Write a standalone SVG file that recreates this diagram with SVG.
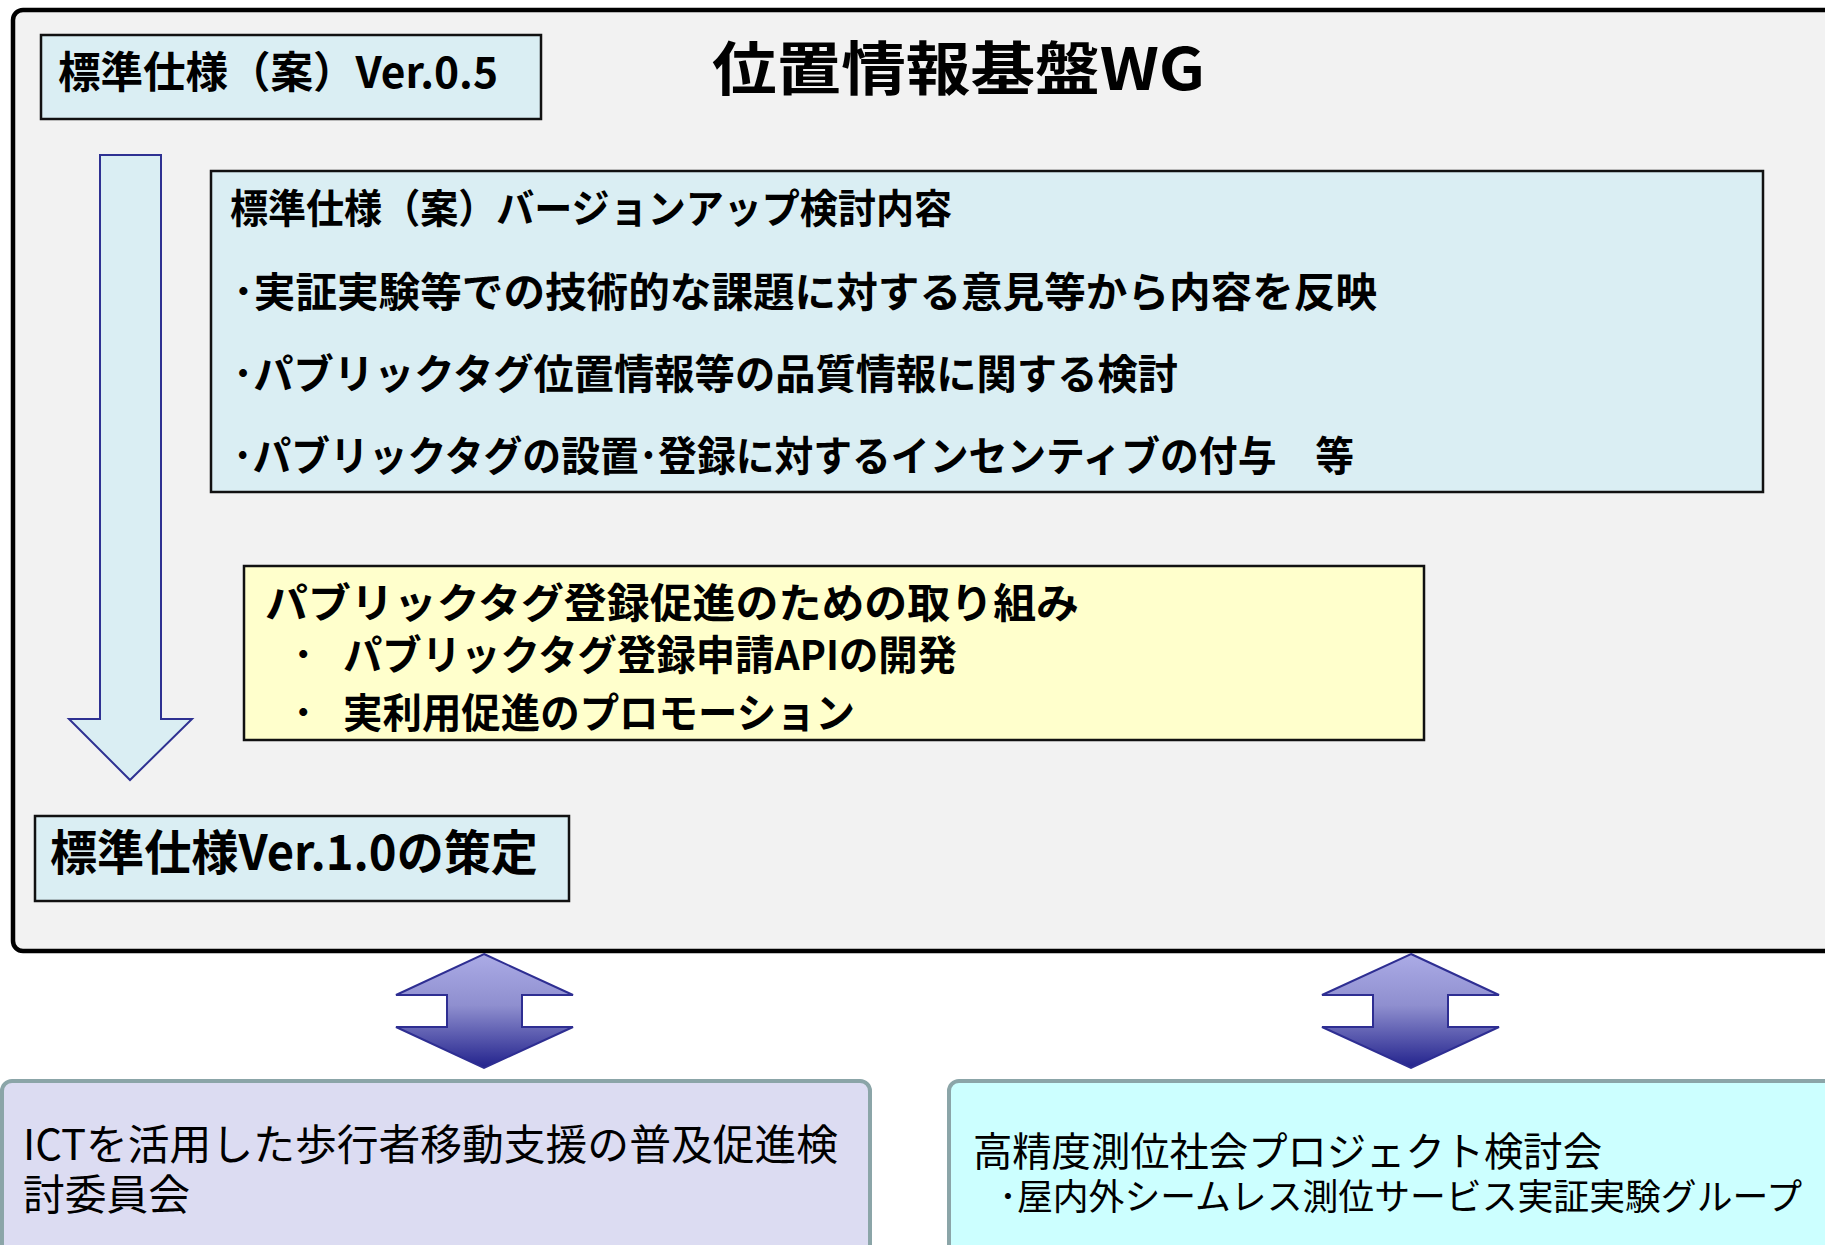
<svg xmlns="http://www.w3.org/2000/svg" width="1825" height="1245" viewBox="0 0 1825 1245">
<defs>
<linearGradient id="dblGrad" x1="0" y1="0" x2="0" y2="1">
<stop offset="0" stop-color="#ABABE6"/>
<stop offset="0.45" stop-color="#8F8FCF"/>
<stop offset="1" stop-color="#22228C"/>
</linearGradient>
<style>
.jp{font-family:"Noto Sans CJK JP","Liberation Sans",sans-serif;fill:#000;}
.b{font-weight:bold;}
.n{font-weight:normal;}
.lb{fill:#DAEEF3;stroke:#111;stroke-width:2.5;}
.yb{fill:#FFFFCC;stroke:#111;stroke-width:2.5;}
.dbl{fill:url(#dblGrad);stroke:#2E2E92;stroke-width:2;}
.bot{stroke:#8BA5A8;stroke-width:4;}
</style>
</defs>
<rect width="1825" height="1245" fill="#FFFFFF"/>
<g id="wg">
<rect x="13" y="10" width="1830" height="941" rx="10" fill="#F2F2F2" stroke="#000" stroke-width="4.5"/>
<text class="jp b" x="712" y="90" font-size="58" textLength="493" lengthAdjust="spacingAndGlyphs">位置情報基盤WG</text>
</g>
<g id="ver05">
<rect class="lb" x="41" y="35" width="500" height="84"/>
<text class="jp b" x="58" y="88" font-size="43" textLength="440" lengthAdjust="spacingAndGlyphs">標準仕様（案）Ver.0.5</text>
</g>
<g id="content">
<rect class="lb" x="211" y="171" width="1552" height="321"/>
<text class="jp b" x="230" y="223" font-size="40" textLength="722" lengthAdjust="spacingAndGlyphs">標準仕様（案）バージョンアップ検討内容</text>
<text class="jp b" x="233" y="307" font-size="41" textLength="1144" lengthAdjust="spacingAndGlyphs">･実証実験等での技術的な課題に対する意見等から内容を反映</text>
<text class="jp b" x="233" y="389" font-size="41" textLength="945" lengthAdjust="spacingAndGlyphs">･パブリックタグ位置情報等の品質情報に関する検討</text>
<text class="jp b" x="233" y="471" font-size="41" textLength="1121" lengthAdjust="spacingAndGlyphs">･パブリックタグの設置･登録に対するインセンティブの付与　等</text>
</g>
<g id="promo">
<rect class="yb" x="244" y="566" width="1180" height="174"/>
<text class="jp b" x="265" y="618" font-size="41" textLength="814" lengthAdjust="spacingAndGlyphs">パブリックタグ登録促進のための取り組み</text>
<text class="jp b" x="293" y="670" font-size="41">･</text>
<text class="jp b" x="343" y="670" font-size="41" textLength="614" lengthAdjust="spacingAndGlyphs">パブリックタグ登録申請APIの開発</text>
<text class="jp b" x="293" y="728" font-size="41">･</text>
<text class="jp b" x="343" y="728" font-size="41" textLength="512" lengthAdjust="spacingAndGlyphs">実利用促進のプロモーション</text>
</g>
<g id="ver10">
<rect class="lb" x="35" y="816" width="534" height="85"/>
<text class="jp b" x="50" y="870" font-size="48" textLength="488" lengthAdjust="spacingAndGlyphs">標準仕様Ver.1.0の策定</text>
</g>
<g id="ict">
<rect class="bot" x="2" y="1081" width="868" height="200" rx="10" fill="#DCDCF2"/>
<text class="jp n" x="23" y="1160" font-size="42" textLength="815" lengthAdjust="spacingAndGlyphs">ICTを活用した歩行者移動支援の普及促進検</text>
<text class="jp n" x="23" y="1210" font-size="42" textLength="167" lengthAdjust="spacingAndGlyphs">討委員会</text>
</g>
<g id="gnss">
<rect class="bot" x="949" y="1081" width="900" height="200" rx="10" fill="#CCFFFF"/>
<text class="jp n" x="973" y="1166" font-size="40" textLength="629" lengthAdjust="spacingAndGlyphs">高精度測位社会プロジェクト検討会</text>
<text class="jp n" x="999" y="1210" font-size="36" textLength="803" lengthAdjust="spacingAndGlyphs">･屋内外シームレス測位サービス実証実験グループ</text>
</g>
<g id="connectors">
<path d="M100,155 H161 V719 H192 L130,780 L69,719 H100 Z" fill="#DAEEF3" stroke="#2E3192" stroke-width="2"/>
<path class="dbl" d="M484,954 L573,995 H522 V1027 H573 L484,1068 L396,1027 H447 V995 H396 Z"/>
<path class="dbl" d="M1411,954 L1499,995 H1448 V1027 H1499 L1411,1068 L1322,1027 H1373 V995 H1322 Z"/>
</g>
</svg>
